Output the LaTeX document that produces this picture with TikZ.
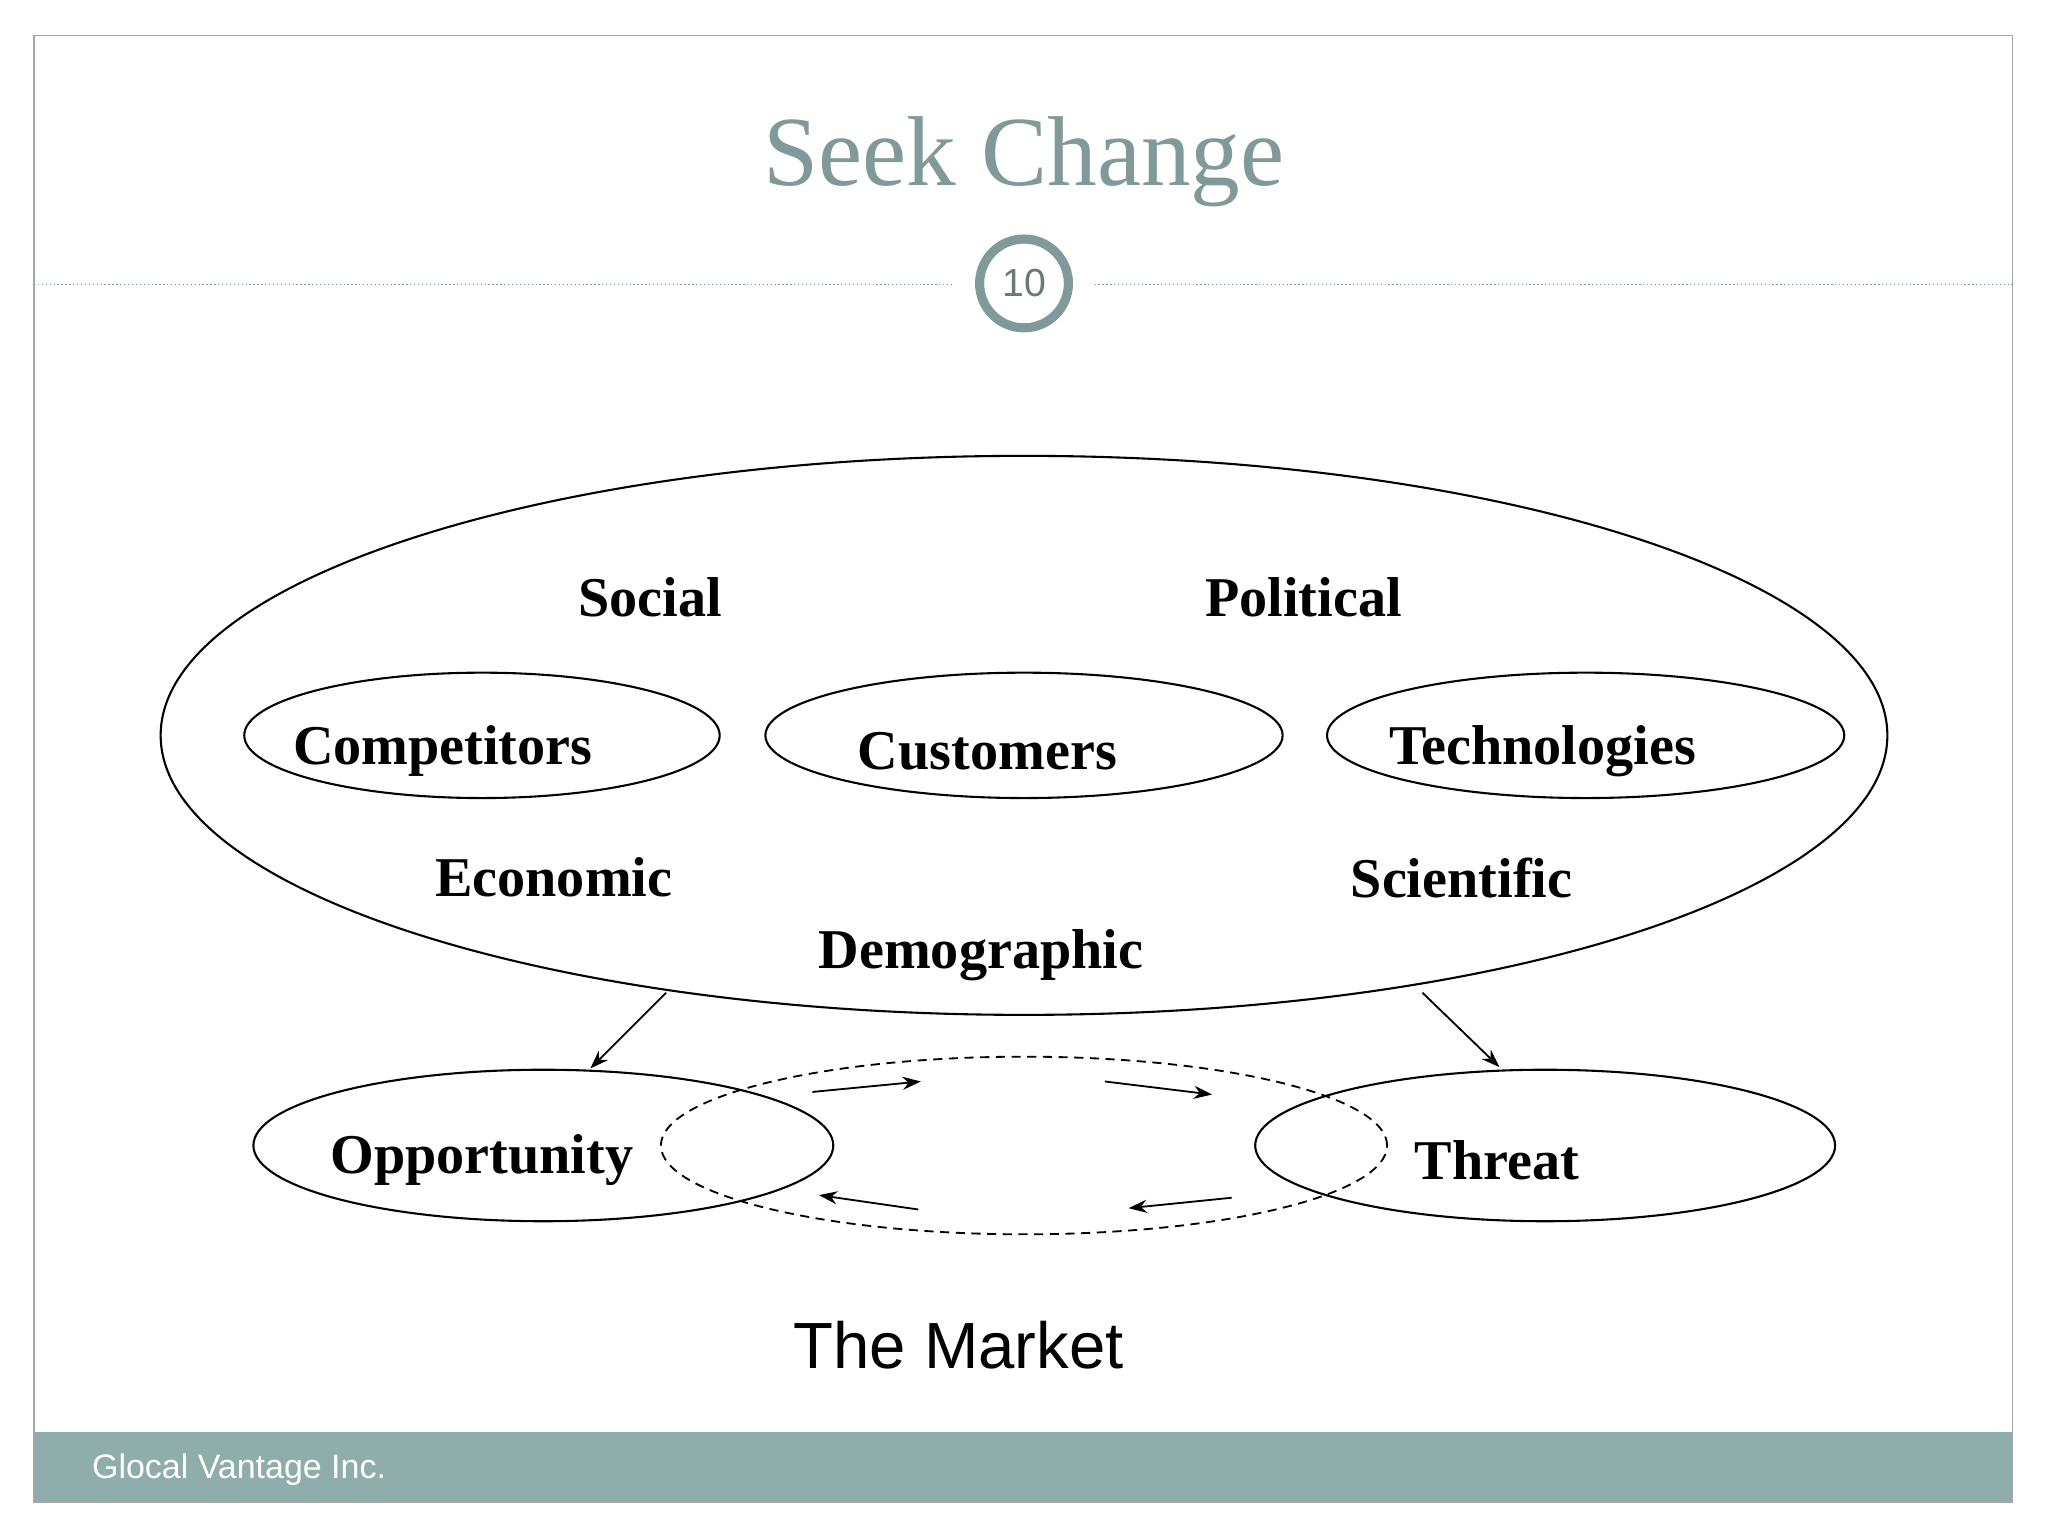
\documentclass[tikz,border=0pt]{standalone}
\usepackage{fontspec}
\setmainfont{Liberation Serif}
\setsansfont{Liberation Sans}
\usetikzlibrary{shapes.geometric,arrows.meta}
\definecolor{teal}{HTML}{7F9A98}
\definecolor{band}{HTML}{8FADAB}
\tikzset{
 ell/.style={draw,ellipse,inner sep=0pt,line width=1.6pt},
 lab/.style={font=\bfseries\fontsize{43}{46}\selectfont},
 arr/.style={-{Stealth[length=14pt,width=10pt]},line width=1.4pt}
}
\begin{document}
\begin{tikzpicture}[x=1pt,y=-1pt]
\useasboundingbox (0,0) rectangle (1568,1176);
\fill[white] (0,0) rectangle (1568,1176);
\fill[band] (26,1096) rectangle (1541,1150);
\draw[gray!70,line width=1pt] (26,27) rectangle (1541,1150);
\node[anchor=west,text=white,font=\sffamily\fontsize{26}{30}\selectfont] (foot) at (67,1125) {Glocal Vantage Inc.};
\node[text=teal,font=\fontsize{76}{86}\selectfont] (title) at (784,124) {Seek Change};
\draw[teal,dotted,line width=1pt] (26,218) -- (730,218);
\draw[teal,dotted,line width=1pt] (838,218) -- (1541,218);
\node[circle,draw=teal,fill=white,line width=7pt,minimum size=68pt,inner sep=0pt,text=teal!80!black,font=\sffamily\fontsize{30}{34}\selectfont] (num) at (784,217) {10};
\node[ell,minimum width=1322pt,minimum height=428pt] (big) at (784,563) {};
\node[ell,minimum width=364pt,minimum height=96pt] (comp) at (369,563) {};
\node[ell,minimum width=396pt,minimum height=96pt] (cust) at (784,563) {};
\node[ell,minimum width=396pt,minimum height=96pt] (tech) at (1214,563) {};
\node[lab] (social) at (498,457) {Social};
\node[lab] (pol) at (998,457) {Political};
\node[lab] (tcomp) at (339,575) {Competitors};
\node[lab] (tcust) at (756,575) {Customers};
\node[lab] (ttech) at (1181,575) {Technologies};
\node[lab] (econ) at (424,672) {Economic};
\node[lab] (sci) at (1119,672) {Scientific};
\node[lab] (demo) at (751,731) {Demographic};
\node[draw,ellipse,dashed,dash pattern=on 7pt off 5pt,line width=1.4pt,inner sep=0pt,minimum width=556pt,minimum height=136pt] (cycle) at (784,877) {};
\node[ell,minimum width=444pt,minimum height=116pt] (opp) at (416,877) {};
\node[ell,minimum width=444pt,minimum height=116pt] (thr) at (1183,877) {};
\node[lab] (topp) at (369,888) {Opportunity};
\node[lab] (tthr) at (1146,888) {Threat};
\coordinate (a1) at (510,760); \coordinate (a1e) at (452,818);
\coordinate (a2) at (1089,760); \coordinate (a2e) at (1148,817);
\draw[arr] (a1) -- (a1e);
\draw[arr] (a2) -- (a2e);
\coordinate (b1) at (622,836); \coordinate (b2) at (705,828);
\coordinate (c1) at (846,828); \coordinate (c2) at (928,838);
\coordinate (d1) at (943,917); \coordinate (d2) at (864,925);
\coordinate (e1) at (703,926); \coordinate (e2) at (627,915);
\draw[arr] (b1) -- (b2);
\draw[arr] (c1) -- (c2);
\draw[arr] (d1) -- (d2);
\draw[arr] (e1) -- (e2);
\node[font=\sffamily\fontsize{50}{56}\selectfont] (market) at (734,1030) {The Market};
\end{tikzpicture}
\end{document}
